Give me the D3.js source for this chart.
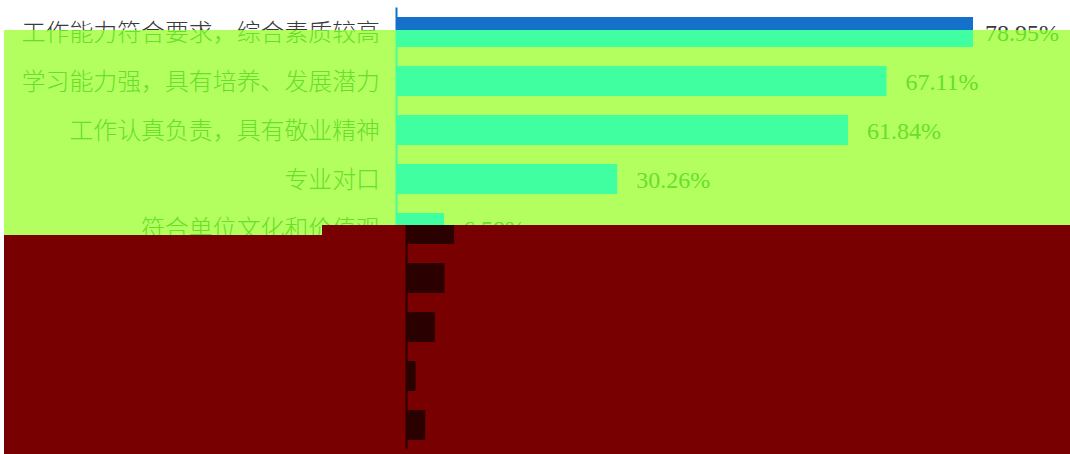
<!DOCTYPE html>
<html>
<head>
<meta charset="utf-8">
<script src="https://cdn.jsdelivr.net/npm/d3@7"></script>
<style>
  body { margin: 0; background: #fff; }
  svg { display: block; }
</style>
</head>
<body>
<script>
const width = 1070;
const height = 454;

// data
const categories = [
  "工作能力符合要求，综合素质较高",
  "学习能力强，具有培养、发展潜力",
  "工作认真负责，具有敬业精神",
  "专业对口",
  "符合单位文化和价值观",
  "学校知名度高",
  "实习期间表现优秀",
  "有相关工作经验",
  "其他"
];
const values = [78.95, 67.11, 61.84, 30.26, 6.58, 5.26, 3.95, 1.32, 2.63];

const axisX = 396;

const x = d3.scaleLinear()
  .domain([0, d3.max(values)])
  .range([axisX, 973]);

const y = d3.scaleBand()
  .domain(categories)
  .range([7.5, 7.5 + 49 * categories.length])
  .paddingInner(19 / 49)
  .paddingOuter(19 / 98);

const svg = d3.select("body")
  .append("svg")
  .attr("width", width)
  .attr("height", height);

const defs = svg.append("defs");

defs.append("clipPath")
  .attr("id", "clip-lime")
  .append("rect")
  .attr("x", 4).attr("y", 30)
  .attr("width", width - 4).attr("height", 205);

defs.append("clipPath")
  .attr("id", "clip-red")
  .append("polygon")
  .attr("points", [[4, 235], [322, 235], [322, 225], [width, 225], [width, height], [4, height]].join(" "));

function drawChart(g, pal) {
  g.append("rect")
    .attr("x", -20).attr("y", -20)
    .attr("width", width + 40).attr("height", height + 40)
    .attr("fill", pal.bg);

  g.append("g")
    .selectAll("rect")
    .data(values)
    .join("rect")
    .attr("x", x(0))
    .attr("y", (d, i) => y(categories[i]))
    .attr("width", (d) => x(d) - x(0))
    .attr("height", y.bandwidth())
    .attr("fill", pal.bar);

  g.append("line")
    .attr("x1", axisX + 0.5).attr("x2", axisX + 0.5)
    .attr("y1", y.range()[0]).attr("y2", y.range()[1])
    .attr("stroke", pal.bar)
    .attr("stroke-width", 2);

  g.append("g")
    .selectAll("text")
    .data(categories)
    .join("text")
    .attr("x", axisX - 16)
    .attr("y", (d) => y(d) + y.bandwidth() / 2 + 0.5)
    .attr("dy", "0.36em")
    .attr("text-anchor", "end")
    .attr("font-family", "'Noto Sans CJK SC', sans-serif")
    .attr("font-weight", 300)
    .attr("font-size", 23.9)
    .attr("fill", pal.text)
    .text((d) => d);

  // value labels, kept inside the right edge
  g.append("g")
    .selectAll("text")
    .data(values)
    .join("text")
    .attr("x", (d) => Math.min(x(d) + 19, width - 85))
    .attr("y", (d, i) => y(categories[i]) + y.bandwidth() / 2 + 0.5)
    .attr("dy", "0.35em")
    .attr("font-family", "'Liberation Serif', serif")
    .attr("font-size", 24)
    .attr("fill", pal.text)
    .text((d) => d.toFixed(2) + "%");
}

// normal colours
drawChart(svg.append("g"), { bg: "#ffffff", bar: "#1470c8", text: "#3a3a3a" });

// lime band
drawChart(svg.append("g").attr("clip-path", "url(#clip-lime)"),
  { bg: "#b4ff60", bar: "#40ffa0", text: "#66e028" });

// dark red band, shifted
drawChart(svg.append("g").attr("clip-path", "url(#clip-red)")
  .append("g").attr("transform", "translate(10,1)"),
  { bg: "#780000", bar: "#2a0000", text: "#780000" });
</script>
</body>
</html>
